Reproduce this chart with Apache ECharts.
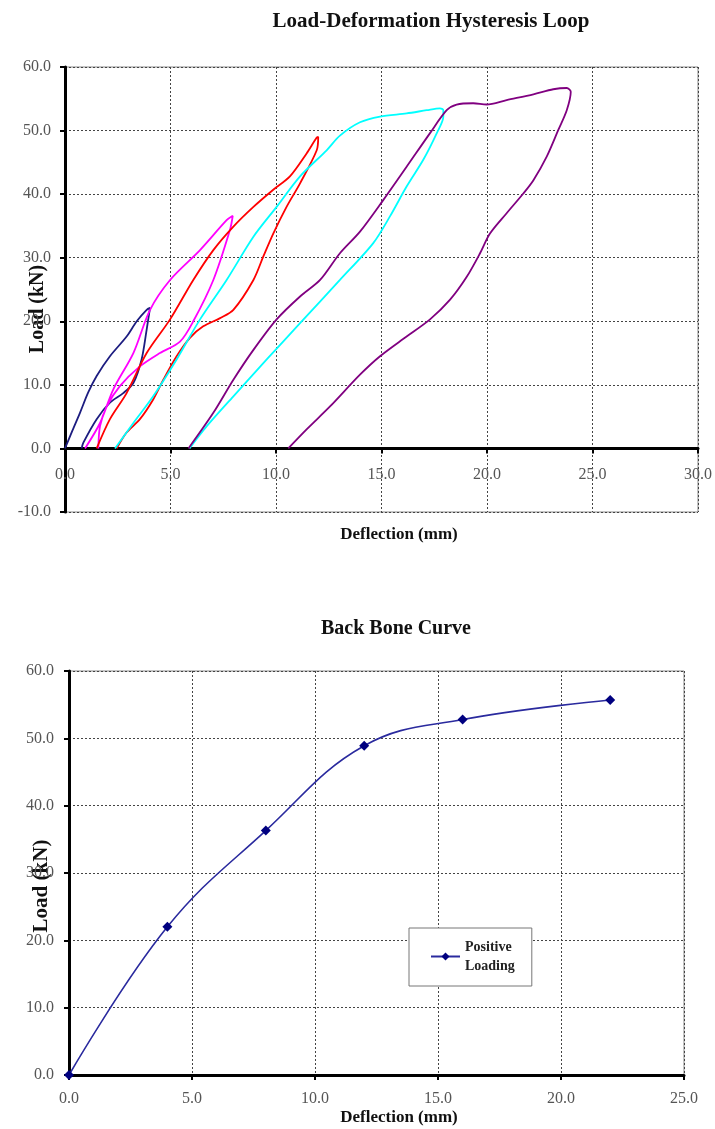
<!DOCTYPE html>
<html>
<head>
<meta charset="utf-8">
<script src="https://cdn.jsdelivr.net/npm/echarts@6/dist/echarts.min.js"></script>
<style>
  html, body { margin: 0; padding: 0; background: #fff; }
  #chart { width: 715px; height: 1129px; }
</style>
</head>
<body>
<div id="chart"></div>
<script>
// Hysteresis cycles: [deflection (mm), load (kN)], loading branch then unloading branch
const cycle1 = [[0,0],[0.35,2.8],[0.71,5.6],[1.1,8.8],[1.5,11.4],[2.13,14.5],[2.92,17.6],[3.4,20],[3.87,21.8],[4.03,22.1],
  [3.87,18.7],[3.63,14],[3.24,10.3],[2.76,8.7],[2.13,7.2],[1.5,4.6],[0.87,0.9],[0.79,0]];
const cycle2 = [[0.95,0],[1.66,4.0],[2.29,9.3],[3.24,15],[4.03,21.8],[4.98,26.5],[6.4,31.2],[7.66,35.9],[7.95,36.6],
  [7.82,34.4],[7.03,26.5],[6.08,20],[5.45,16.8],[4.5,15],[3.55,12.9],[2.6,9.8],[1.98,6.6],[1.66,3.5],[1.58,0]];
const cycle3 = [[1.5,0],[2.13,4.6],[2.92,8.7],[3.87,15],[4.98,20.3],[6.08,26.5],[7.03,31.2],[7.98,34.9],[8.93,38],[9.87,40.7],
  [10.66,42.8],[11.45,46.4],[11.93,48.9],[12.0,49.0],[11.93,46.9],[11.14,41.7],[10.5,38],[9.87,33.8],[9.4,30.2],[8.93,26.5],
  [7.98,21.8],[7.35,20.5],[6.55,19.2],[5.92,17.4],[5.29,14.5],[4.66,10.8],[4.18,7.7],[3.55,4.6],[2.92,2.5],[2.45,0]];
const cycle4 = [[2.37,0],[3.24,4.0],[4.18,8.2],[5.29,14],[6.4,20.3],[7.66,26.5],[8.93,33.3],[10.03,38],[11.14,42.8],[12.4,46.9],
  [13.03,49.2],[13.98,51.3],[14.93,52.2],[16.19,52.7],[17.14,53.2],[17.77,53.5],[17.93,53.2],[17.93,52.2],[17.62,49.6],
  [16.98,45.4],[16.19,41.2],[15.4,36.5],[14.61,32.3],[13.03,26.5],[11.14,19.7],[9.56,14],[7.98,8.2],[6.72,3.5],[5.9,0]];
const cycle5 = [[5.85,0],[7.03,5.6],[7.98,10.8],[8.93,15.5],[10.03,20.3],[11.14,23.9],[12.09,26.5],[13.03,30.7],[13.98,34.1],
  [15.09,39.1],[16.19,44.3],[17.3,49.6],[18.09,53.2],[18.56,54.1],[19.35,54.3],[19.98,54.1],[20.93,54.8],[22.2,55.7],
  [23.14,56.5],[23.78,56.7],[23.97,56.1],[23.78,53.2],[23.38,50.1],[22.83,45.9],[22.2,42.2],[21.72,40.1],[20.93,37],
  [20.14,33.8],[19.67,30.7],[19.04,27],[18.25,23.4],[17.3,20.3],[16.19,17.6],[14.93,14.5],[13.98,11.6],[12.56,6.6],
  [11.45,3.0],[10.58,0]];
const cycles = [cycle1, cycle2, cycle3, cycle4, cycle5];
const cycleColors = ['#1c1c80', '#ff00ff', '#ff0000', '#00ffff', '#800080'];

// Envelope (back bone) of the positive loading peaks
const backboneDeflection = [0, 4, 8, 12, 16, 22];
const backboneLoad = [0, 22.0, 36.3, 48.9, 52.8, 55.7];

const serif = '"Liberation Serif", "DejaVu Serif", serif';
const tickLabel = { fontFamily: serif, fontSize: 16, color: '#555' };
const gridLine = { show: true, lineStyle: { color: '#444', type: [2, 2], width: 1 } };
const axisBlack = { lineStyle: { color: '#000', width: 3 } };
const fmt1 = v => v.toFixed(1);

// top plot: 445 px tall for 70 kN, x axis sits on the 0 kN line
const topGridHeight = 445;
const zeroOffset = -topGridHeight * 10 / 70;

const chart = echarts.init(document.getElementById('chart'), null, { renderer: 'canvas' });

const loopSeries = cycles.map((c, i) => ({
  type: 'line', xAxisIndex: 0, yAxisIndex: 0,
  data: c, smooth: 0.3, showSymbol: false, silent: true,
  lineStyle: { color: cycleColors[i], width: 1.8 }
}));

function label(text, x, y, size, rot) {
  return { type: 'text', x: x, y: y, rotation: rot || 0, silent: true,
    style: { text: text, font: 'bold ' + size + 'px ' + serif, fill: '#111',
             align: 'center', verticalAlign: 'middle', textAlign: 'center', textVerticalAlign: 'middle' } };
}

chart.setOption({
  animation: false,
  backgroundColor: '#fff',
  grid: [
    { left: 65, top: 67, right: 17, height: topGridHeight, show: true, borderColor: '#888', borderWidth: 1 },
    { left: 69, top: 671, right: 31, bottom: 54, show: true, borderColor: '#888', borderWidth: 1 }
  ],
  xAxis: [
    { type: 'value', gridIndex: 0, min: 0, max: 30, interval: 5, position: 'bottom', offset: zeroOffset,
      axisLine: Object.assign({ onZero: false }, axisBlack),
      axisTick: { show: true, length: 5, lineStyle: { color: '#000', width: 2 } },
      axisLabel: Object.assign({ margin: 18, formatter: fmt1 }, tickLabel),
      splitLine: gridLine },
    { type: 'value', gridIndex: 1, min: 0, max: 25, interval: 5,
      axisLine: axisBlack,
      axisTick: { show: true, length: 5, lineStyle: { color: '#000', width: 2 } },
      axisLabel: Object.assign({ margin: 16, formatter: fmt1 }, tickLabel),
      splitLine: gridLine }
  ],
  yAxis: [
    { type: 'value', gridIndex: 0, min: -10, max: 60, interval: 10,
      axisLine: Object.assign({ onZero: false }, axisBlack),
      axisTick: { show: true, length: 5, lineStyle: { color: '#000', width: 2 } },
      axisLabel: Object.assign({ margin: 14, formatter: fmt1 }, tickLabel),
      splitLine: gridLine },
    { type: 'value', gridIndex: 1, min: 0, max: 60, interval: 10,
      axisLine: Object.assign({ onZero: false }, axisBlack),
      axisTick: { show: true, length: 5, lineStyle: { color: '#000', width: 2 } },
      axisLabel: Object.assign({ margin: 15, formatter: fmt1 }, tickLabel),
      splitLine: gridLine }
  ],
  legend: {
    data: ['Positive Loading'],
    left: 409, top: 928,
    backgroundColor: '#fff', borderColor: '#777', borderWidth: 1,
    padding: [0, 17, 1, 21],
    itemWidth: 29, itemHeight: 10, itemGap: 0,
    formatter: () => 'Positive\nLoading',
    // top padding keeps the marker level with the first text line
    textStyle: { fontFamily: serif, fontWeight: 'bold', fontSize: 14, color: '#222', lineHeight: 19, padding: [19, 0, 0, 0] }
  },
  series: loopSeries.concat([{
    name: 'Positive Loading',
    type: 'line', xAxisIndex: 1, yAxisIndex: 1,
    data: backboneDeflection.map((d, i) => [d, backboneLoad[i]]),
    smooth: 0.4, symbol: 'diamond', symbolSize: 10,
    itemStyle: { color: '#000080' },
    lineStyle: { color: '#2a2a9e', width: 1.6 }
  }]),
  graphic: [
    label('Load-Deformation Hysteresis Loop', 431, 22, 21),
    label('Deflection (mm)', 399, 535, 17),
    label('Load (kN)', 38, 309, 20, Math.PI / 2),
    label('Back Bone Curve', 396, 629, 20),
    label('Deflection (mm)', 399, 1118, 17),
    label('Load (kN)', 42, 886, 21, Math.PI / 2)
  ]
});
</script>
</body>
</html>
